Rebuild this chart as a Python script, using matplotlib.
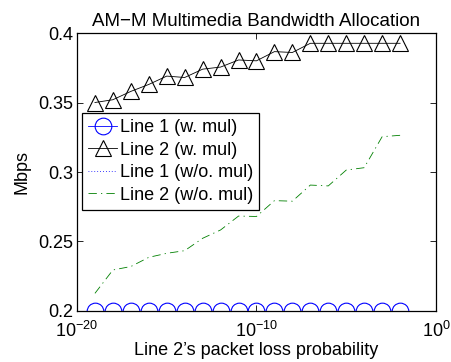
import numpy as np
import matplotlib
matplotlib.use("Agg")
import matplotlib.pyplot as plt

plt.rcParams['font.family'] = ['Liberation Sans', 'DejaVu Sans']
plt.rcParams['mathtext.fontset'] = 'custom'
plt.rcParams['mathtext.rm'] = 'Liberation Sans'
plt.rcParams['mathtext.it'] = 'Liberation Sans:italic'
plt.rcParams['mathtext.bf'] = 'Liberation Sans:bold'

exponents = [-19, -18, -17, -16, -15, -14, -13, -12, -11, -10,
             -9, -8, -7, -6, -5, -4, -3, -2]
line1_mul = [0.2] * 18
line2_mul = [0.350, 0.352, 0.358, 0.363, 0.369, 0.368, 0.374, 0.3755, 0.3806,
             0.380, 0.3866, 0.386, 0.3926, 0.3926, 0.3926, 0.3926, 0.3926, 0.3926]
line1_nomul = [0.2] * 18
line2_nomul = [0.2127, 0.2295, 0.232, 0.2386, 0.2415, 0.2434, 0.2523, 0.2583,
               0.2683, 0.268, 0.2794, 0.279, 0.2906, 0.290, 0.3014, 0.3031,
               0.3254, 0.3264]
labels = ['Line 1 (w. mul)', 'Line 2 (w. mul)', 'Line 1 (w/o. mul)', 'Line 2 (w/o. mul)']

x = [10.0 ** e for e in exponents]

FS = 13

fig = plt.figure(figsize=(4.51, 3.62), dpi=100)
ax = fig.add_axes([0.1707, 0.1409, 0.7960, 0.7679])

ax.plot(x, line1_mul, color='blue', marker='o', markersize=12, mfc='none',
        mew=0.8, lw=0.6, label=labels[0])
ax.plot(x, line2_mul, color='black', marker='^', markersize=12, mfc='none',
        mew=0.8, lw=0.6, label=labels[1])
ax.plot(x, line1_nomul, color='blue', ls=(0, (1, 2.5)), lw=0.6, label=labels[2])
ax.plot(x, line2_nomul, color=(0, 0.5, 0), ls=(0, (10, 5, 1.5, 5)), lw=0.6,
        label=labels[3])

ax.set_xscale('log')
ax.set_xlim(1e-20, 1e0)
ax.set_ylim(0.2, 0.4)
ax.set_xticks([1e-20, 1e-10, 1e0])
ax.xaxis.set_minor_locator(matplotlib.ticker.NullLocator())
ax.set_yticks([0.2, 0.25, 0.3, 0.35, 0.4])
ax.set_yticklabels(['0.2', '0.25', '0.3', '0.35', '0.4'])
ax.tick_params(direction='in', top=True, right=True, labelsize=FS, length=4, width=0.6)
ax.tick_params(axis='y', pad=3)
ax.tick_params(axis='x', pad=7)
for s in ax.spines.values():
    s.set_linewidth(0.9)

ax.set_title('AM\u2212M Multimedia Bandwidth Allocation', fontsize=13.5, pad=5)
ax.set_xlabel('Line 2\u2019s packet loss probability', fontsize=FS, labelpad=1)
ax.set_ylabel('Mbps', fontsize=FS, labelpad=5)

leg = ax.legend(loc='upper left', bbox_to_anchor=(0.014, 0.712), fontsize=FS,
                frameon=True, fancybox=False, edgecolor='black', framealpha=1,
                handlelength=1.6, handletextpad=0.15, borderpad=0.35,
                labelspacing=0.3, borderaxespad=0)
leg.get_frame().set_linewidth(0.9)

fig.savefig('out.png', dpi=100)
